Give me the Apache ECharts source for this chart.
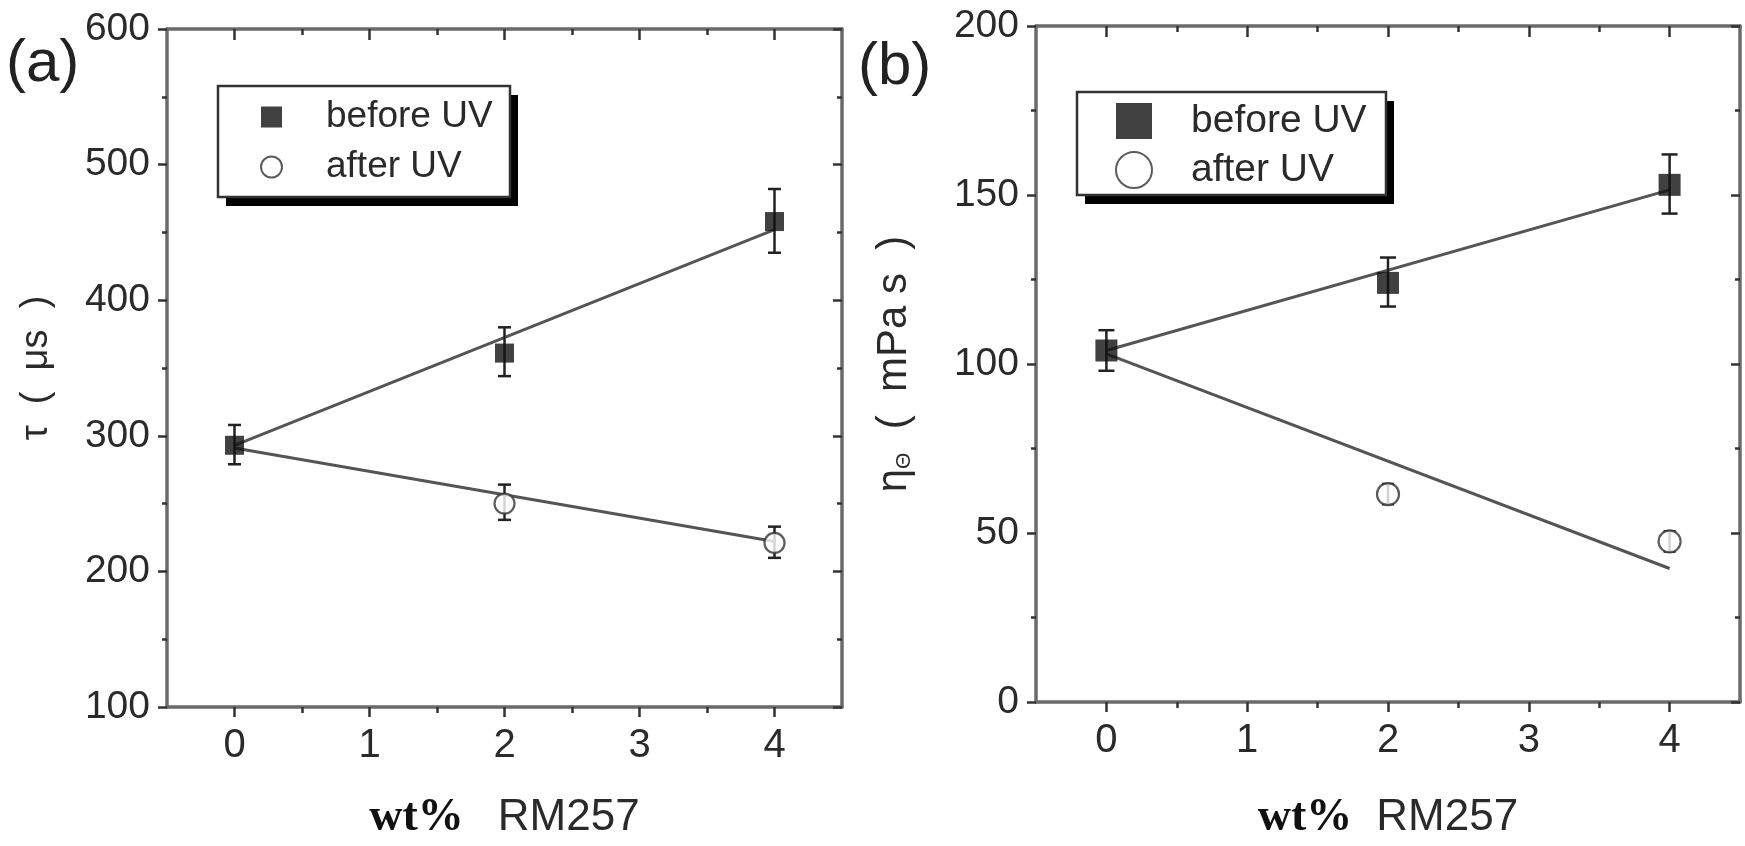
<!DOCTYPE html>
<html>
<head>
<meta charset="utf-8">
<script src="https://cdn.jsdelivr.net/npm/echarts@6/dist/echarts.min.js"></script>
<style>html,body{margin:0;padding:0;background:#fff;}#c{width:1745px;height:846px;}</style>
</head>
<body>
<div id="c"></div>
<script>
// ---- data ----
const xTicks = [0, 1, 2, 3, 4];
const xMinorTicks = [0.5, 1.5, 2.5, 3.5];
const seriesNames = ['before UV', 'after UV'];

// panel (a): tau (us)
const aBeforeX = [0, 2, 4];
const aBeforeY = [293, 361, 458];
const aBeforeLo = [279, 344, 435];
const aBeforeHi = [308, 380, 482];
const aAfterX = [2, 4];
const aAfterY = [250, 221];
const aAfterLo = [238, 210];
const aAfterHi = [264, 233];
const aFitBefore = [[0, 293], [4, 452]];
const aFitAfter = [[0, 291], [4, 222]];

// panel (b): eta (mPa s)
const bBeforeX = [0, 2, 4];
const bBeforeY = [104, 124, 153];
const bBeforeLo = [98, 117, 144.5];
const bBeforeHi = [110, 131.5, 162];
const bAfterX = [2, 4];
const bAfterY = [61.5, 47.5];
const bAfterLo = [58.5, 44.5];
const bAfterHi = [64.5, 50.5];
const bFitBefore = [[0, 104], [4, 151.5]];
const bFitAfter = [[0, 103], [4, 39.5]];

// ---- helpers ----
const SANS = 'Liberation Sans';
const AX = '#6a6a6a', TK = '#333', TXT = '#2a2a2a';
const zip = (xs, ys) => xs.map((x, i) => [x, ys[i]]);
const zip3 = (xs, lo, hi) => xs.map((x, i) => [x, lo[i], hi[i]]);

function xAxes(gi, nameGap, nameText) {
  const base = {gridIndex: gi, type: 'value', min: -0.5, max: 4.5,
    splitLine: {show: false}};
  return [
    Object.assign({}, base, {position: 'bottom',
      axisLine: {show: true, onZero: false, lineStyle: {color: AX, width: 3.5}},
      axisTick: {show: true, inside: false, length: 10, customValues: xTicks, lineStyle: {color: TK, width: 2.5}},
      axisLabel: {show: true, customValues: xTicks, margin: 19, fontSize: 40, fontFamily: SANS, color: TXT},
      name: nameText, nameLocation: 'middle', nameGap: nameGap,
      nameTextStyle: {rich: {
        b: {fontFamily: 'Liberation Serif', fontWeight: 'bold', fontSize: 46, color: '#111'},
        r: {fontFamily: SANS, fontSize: 44, color: TXT, padding: [0, 0, 0, gi === 0 ? 34 : 24]}
      }}
    }),
    Object.assign({}, base, {position: 'bottom',
      axisLine: {show: false, onZero: false},
      axisTick: {show: true, inside: false, length: 6, customValues: xMinorTicks, lineStyle: {color: TK, width: 2.5}},
      axisLabel: {show: false}
    }),
    Object.assign({}, base, {position: 'top',
      axisLine: {show: true, onZero: false, lineStyle: {color: AX, width: 3.5}},
      axisTick: {show: true, inside: true, length: 11, customValues: xTicks, lineStyle: {color: TK, width: 2.5}},
      axisLabel: {show: false}
    }),
    Object.assign({}, base, {position: 'top',
      axisLine: {show: false, onZero: false},
      axisTick: {show: true, inside: true, length: 6, customValues: xMinorTicks, lineStyle: {color: TK, width: 2.5}},
      axisLabel: {show: false}
    })
  ];
}

function yAxes(gi, min, max, interval, nameGap, nameText, nameSize, rich) {
  return [
    {gridIndex: gi, type: 'value', position: 'left', min: min, max: max, interval: interval,
      splitLine: {show: false},
      axisLine: {show: true, onZero: false, lineStyle: {color: AX, width: 3.5}},
      axisTick: {show: true, inside: false, length: 9, lineStyle: {color: TK, width: 2.5}},
      minorTick: {show: true, splitNumber: 2, length: 5, lineStyle: {color: TK, width: 2.5}},
      axisLabel: {margin: 17, fontSize: 39, fontFamily: SANS, color: TXT},
      name: nameText, nameLocation: 'middle', nameGap: nameGap, nameRotate: 90,
      nameTextStyle: {fontSize: nameSize, fontFamily: SANS, color: TXT, rich: rich}
    },
    {gridIndex: gi, type: 'value', position: 'right', min: min, max: max, interval: interval,
      splitLine: {show: false},
      axisLine: {show: true, onZero: false, lineStyle: {color: AX, width: 3.5}},
      axisTick: {show: true, inside: true, length: 9, lineStyle: {color: TK, width: 2.5}},
      minorTick: {show: true, splitNumber: 2, length: 5, lineStyle: {color: TK, width: 2.5}},
      axisLabel: {show: false}
    }
  ];
}

function errSeries(xi, yi, data, cap) {
  return {
    type: 'custom', xAxisIndex: xi, yAxisIndex: yi, z: 3, silent: true,
    data: data,
    renderItem: function (params, api) {
      const x = api.value(0);
      const p1 = api.coord([x, api.value(1)]);
      const p2 = api.coord([x, api.value(2)]);
      const st = {stroke: '#222', lineWidth: 2.5};
      return {type: 'group', children: [
        {type: 'line', shape: {x1: p1[0], y1: p1[1], x2: p2[0], y2: p2[1]}, style: st},
        {type: 'line', shape: {x1: p1[0] - cap, y1: p1[1], x2: p1[0] + cap, y2: p1[1]}, style: st},
        {type: 'line', shape: {x1: p2[0] - cap, y1: p2[1], x2: p2[0] + cap, y2: p2[1]}, style: st}
      ]};
    }
  };
}

function fitSeries(xi, yi, data) {
  return {type: 'line', xAxisIndex: xi, yAxisIndex: yi, data: data, symbol: 'none', z: 2, silent: true,
    lineStyle: {color: '#555', width: 3}};
}

function markerSeries(xi, yi, name, data, symbol, size) {
  const s = {type: 'scatter', name: name, xAxisIndex: xi, yAxisIndex: yi, data: data, z: 5,
    symbol: symbol, symbolSize: size, silent: true};
  if (symbol === 'circle') s.itemStyle = {color: '#fff', borderColor: '#333', borderWidth: 2.2};
  else s.itemStyle = {color: '#111'};
  return s;
}

function legend(left, top, padding, iconSize, fontSize, spacer, gap) {
  return {
    left: left, top: top, orient: 'vertical', align: 'left', selectedMode: false, z: 10,
    padding: padding, itemGap: gap, itemWidth: iconSize, itemHeight: iconSize,
    formatter: function (n) { return '{g|}' + n; },
    textStyle: {fontSize: fontSize, fontFamily: SANS, color: TXT, lineHeight: 40,
      rich: {g: {width: spacer}}},
    data: [
      {name: seriesNames[0], icon: 'rect', itemStyle: {color: '#111', borderWidth: 0}},
      {name: seriesNames[1], icon: 'circle', itemStyle: {color: '#fff', borderColor: '#333', borderWidth: 2}}
    ]
  };
}

// legend frame with hard drop shadow (box geometry = legend layout above)
function legendFrame(x, y, w, h) {
  return [
    {type: 'rect', z: 8, silent: true, shape: {x: x + 8, y: y + 9, width: w, height: h}, style: {fill: '#000'}},
    {type: 'rect', z: 9, silent: true, shape: {x: x, y: y, width: w, height: h},
      style: {fill: '#fff', stroke: '#333', lineWidth: 2.5}}
  ];
}

const option = {
  backgroundColor: '#fff',
  animation: false,
  title: [
    {text: '(a)', left: 6, top: 34, padding: 0, textStyle: {fontSize: 60, fontWeight: 'normal', fontFamily: SANS, color: '#222'}},
    {text: '(b)', left: 858, top: 37, padding: 0, textStyle: {fontSize: 60, fontWeight: 'normal', fontFamily: SANS, color: '#222'}}
  ],
  grid: [
    {left: 167, top: 29, width: 675, height: 692},
    {left: 1036, top: 26, width: 704, height: 694}
  ],
  graphic: legendFrame(218, 86, 292, 111).concat(legendFrame(1077, 92, 309, 103)),
  legend: [
    legend(218, 86, [11, 21, 10, 42], 21, 37, 39, 10),
    legend(1077, 92, [9, 20, 5, 38], 36, 39, 34, 9)
  ],
  xAxis: xAxes(0, 88, '{b|wt%}{r|RM257}').concat(xAxes(1, 93, '{b|wt%}{r|RM257}')),
  yAxis: yAxes(0, 100, 600, 100, 111, 'τ  (  μs  )', 38, {})
    .concat(yAxes(1, 0, 200, 50, 121, '{m|η}{s|Θ}{m|  (  mPa s  )}', 42, {
      m: {fontSize: 42, fontFamily: SANS, color: TXT},
      s: {fontSize: 21, fontFamily: SANS, color: TXT, verticalAlign: 'bottom', padding: [15, 0, 0, 0]}
    })),
  series: [
    fitSeries(0, 0, aFitBefore),
    fitSeries(0, 0, aFitAfter),
    errSeries(0, 0, zip3(aBeforeX, aBeforeLo, aBeforeHi), 6.5),
    errSeries(0, 0, zip3(aAfterX, aAfterLo, aAfterHi), 6.5),
    markerSeries(0, 0, seriesNames[0], zip(aBeforeX, aBeforeY), 'rect', 19),
    markerSeries(0, 0, seriesNames[1], zip(aAfterX, aAfterY), 'circle', 20),
    fitSeries(4, 2, bFitBefore),
    fitSeries(4, 2, bFitAfter),
    errSeries(4, 2, zip3(bBeforeX, bBeforeLo, bBeforeHi), 8),
    errSeries(4, 2, zip3(bAfterX, bAfterLo, bAfterHi), 6),
    markerSeries(4, 2, seriesNames[0], zip(bBeforeX, bBeforeY), 'rect', 22),
    markerSeries(4, 2, seriesNames[1], zip(bAfterX, bAfterY), 'circle', 22)
  ]
};

const chart = echarts.init(document.getElementById('c'));
chart.setOption(option);
</script>
</body>
</html>
